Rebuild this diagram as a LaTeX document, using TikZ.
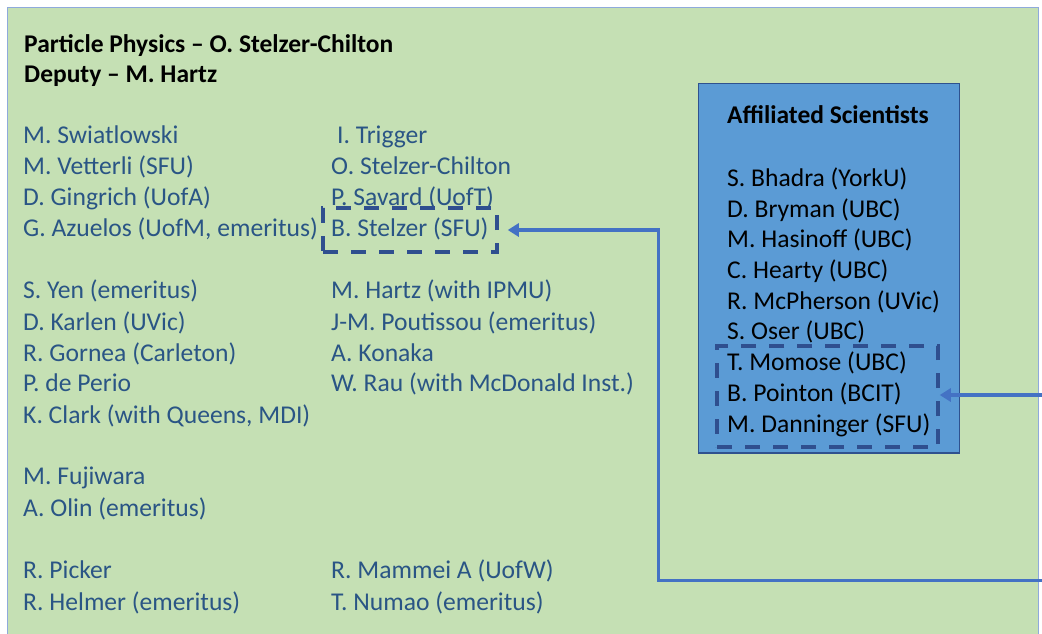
\documentclass[tikz,border=0pt]{standalone}
\usepackage{fontspec}
\setmainfont{Carlito}
\usetikzlibrary{arrows.meta}
\definecolor{bggreen}{HTML}{C5E0B4}
\definecolor{bgborder}{HTML}{8FAADC}
\definecolor{boxblue}{HTML}{5B9BD5}
\definecolor{boxborder}{HTML}{2F528F}
\definecolor{nametext}{HTML}{2A5585}
\definecolor{arrowblue}{HTML}{4472C4}
\definecolor{dashblue}{HTML}{2F4F8F}
\tikzset{
  nm/.style={anchor=base west, inner sep=0pt, text=nametext, font=\fontsize{25.6}{30}\selectfont},
  an/.style={anchor=base west, inner sep=0pt, text=black, font=\fontsize{25.6}{30}\selectfont},
  ttl/.style={anchor=base west, inner sep=0pt, text=black, font=\fontsize{25.5}{30}\selectfont\bfseries},
  dbox/.style={draw=dashblue, line width=3.5pt, dash pattern=on 15pt off 13pt, inner sep=0pt},
  conn/.style={draw=arrowblue, line width=3.8pt, -{Triangle[length=11pt,width=13pt]}},
}
\begin{document}
\begin{tikzpicture}[x=1pt,y=-1pt]
\useasboundingbox (0,0) rectangle (1042,633);
\fill[white] (0,0) rectangle (1042,633);
\draw[fill=bggreen, draw=bgborder, line width=1pt] (7.5,7.5) rectangle (1038,645);
% affiliated box
\draw[fill=boxblue, draw=boxborder, line width=1.5pt] (698.5,83.5) rectangle (959.5,453);
% title
\node[ttl] (t1) at (24,52) {Particle Physics -- O. Stelzer-Chilton};
\node[ttl] (t2) at (24,82) {Deputy -- M. Hartz};
% column 1
\node[nm] (a1) at (23,143) {M. Swiatlowski};
\node[nm] (a2) at (23,174) {M. Vetterli (SFU)};
\node[nm] (a3) at (23,205) {D. Gingrich (UofA)};
\node[nm] (a4) at (23,236) {G. Azuelos (UofM, emeritus)};
\node[nm] (a5) at (23,298) {S. Yen (emeritus)};
\node[nm] (a6) at (23,330) {D. Karlen (UVic)};
\node[nm] (a7) at (23,361) {R. Gornea (Carleton)};
\node[nm] (a8) at (23,391) {P. de Perio};
\node[nm] (a9) at (23,423) {K. Clark (with Queens, MDI)};
\node[nm] (a10) at (23,484) {M. Fujiwara};
\node[nm] (a11) at (23,516) {A. Olin (emeritus)};
\node[nm] (a12) at (23,578) {R. Picker};
\node[nm] (a13) at (23,610) {R. Helmer (emeritus)};
% column 2
\node[nm] (b1) at (337,143) {I. Trigger};
\node[nm] (b2) at (331,174) {O. Stelzer-Chilton};
\node[nm] (b3) at (331,205) {P. Savard (UofT)};
\node[nm] (b4) at (331,236) {B. Stelzer (SFU)};
\node[nm] (b5) at (331,298) {M. Hartz (with IPMU)};
\node[nm] (b6) at (331,330) {J-M. Poutissou (emeritus)};
\node[nm] (b7) at (331,361) {A. Konaka};
\node[nm] (b8) at (331,391) {W. Rau (with McDonald Inst.)};
\node[nm] (b9) at (331,578) {R. Mammei A (UofW)};
\node[nm] (b10) at (331,610) {T. Numao (emeritus)};
% affiliated
\node[ttl] (h) at (727,123) {Affiliated Scientists};
\node[an] (c1) at (727,186) {S. Bhadra (YorkU)};
\node[an] (c2) at (727,217) {D. Bryman (UBC)};
\node[an] (c3) at (727,247) {M. Hasinoff (UBC)};
\node[an] (c4) at (727,278) {C. Hearty (UBC)};
\node[an] (c5) at (727,309) {R. McPherson (UVic)};
\node[an] (c6) at (727,339) {S. Oser (UBC)};
\node[an] (c7) at (727,370) {T. Momose (UBC)};
\node[an] (c8) at (727,401) {B. Pointon (BCIT)};
\node[an] (c9) at (727,432) {M. Danninger (SFU)};
% dashed boxes
\node[dbox, minimum width=174pt, minimum height=44pt] (d1) at (410,230) {};
\node[dbox, minimum width=221pt, minimum height=101pt] (d2) at (827.5,396.5) {};
% connectors
\coordinate (e1) at (1045,395);
\coordinate (e2) at (1045,580.5);
\coordinate (k) at (658.5,230);
\draw[conn] (e1) -- (e1 -| d2.east);
\draw[conn, shorten >=9pt] (e2) -| (k) -- (d1.east);
\end{tikzpicture}
\end{document}
